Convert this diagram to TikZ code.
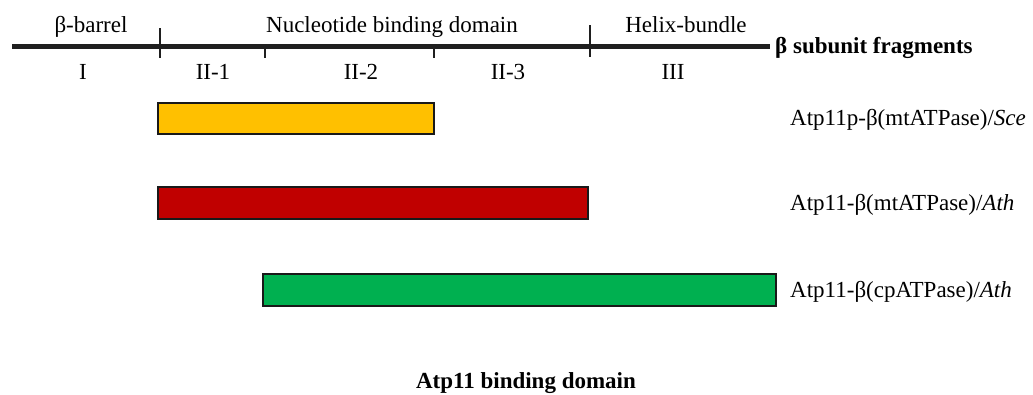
\documentclass[tikz,border=0pt]{standalone}
\usepackage{fontspec}
\setmainfont{Liberation Serif}
\begin{document}
\begin{tikzpicture}[x=1pt,y=-1pt,
  txt/.style={font=\fontsize{23}{27}\selectfont, inner sep=0pt, anchor=base},
  btxt/.style={font=\fontsize{23}{27}\selectfont\bfseries, inner sep=0pt, anchor=base},
  lbl/.style={font=\fontsize{23}{27}\selectfont, inner sep=0pt, anchor=base west},
  axisline/.style={line width=4.5pt, color=black!88},
  tick/.style={line width=2.6pt, color=black!88},
  bar/.style={draw=black!90, line width=1.6pt, inner sep=0pt, outer sep=0pt, anchor=north west}]
\useasboundingbox (0,0) rectangle (1033,394);
\definecolor{barorange}{RGB}{255,192,0}
\definecolor{barred}{RGB}{192,0,0}
\definecolor{bargreen}{RGB}{0,176,80}
% axis
\coordinate (axL) at (12,46.5);
\coordinate (axR) at (770,46.5);
\draw[axisline] (axL) -- (axR);
% ticks
\coordinate (t1a) at (160,28); \coordinate (t1b) at (160,58);
\coordinate (t2a) at (265,46); \coordinate (t2b) at (265,58);
\coordinate (t3a) at (434,46); \coordinate (t3b) at (434,58);
\coordinate (t4a) at (590,25); \coordinate (t4b) at (590,57);
\draw[tick] (t1a) -- (t1b);
\draw[tick] (t2a) -- (t2b);
\draw[tick] (t3a) -- (t3b);
\draw[tick] (t4a) -- (t4b);
% domain labels
\node[txt] (bb) at (91,32.5) {β-barrel};
\node[txt] (nbd) at (392,32.5) {Nucleotide binding domain};
\node[txt] (hb) at (686,32.5) {Helix-bundle};
\node[btxt, anchor=base west] (bsf) at (775,53.5) {β subunit fragments};
% fragment labels
\node[txt] (r1) at (83,79.5) {I};
\node[txt] (r2) at (213,79.5) {II-1};
\node[txt] (r3) at (361,79.5) {II-2};
\node[txt] (r4) at (508,79.5) {II-3};
\node[txt] (r5) at (673,79.5) {III};
% bars
\node[bar, fill=barorange, minimum width=276, minimum height=31] (sce) at (158,103) {};
\node[bar, fill=barred, minimum width=430, minimum height=32] (mt) at (158,187) {};
\node[bar, fill=bargreen, minimum width=513, minimum height=32] (cp) at (263,274) {};
% bar labels
\node[lbl] (lsce) at (790,125.5) {Atp11p-β(mtATPase)/\textit{Sce}};
\node[lbl] (lmt) at (790,210) {Atp11-β(mtATPase)/\textit{Ath}};
\node[lbl] (lcp) at (790,297) {Atp11-β(cpATPase)/\textit{Ath}};
% bottom title
\node[btxt] (abd) at (526,388) {Atp11 binding domain};
\end{tikzpicture}
\end{document}
